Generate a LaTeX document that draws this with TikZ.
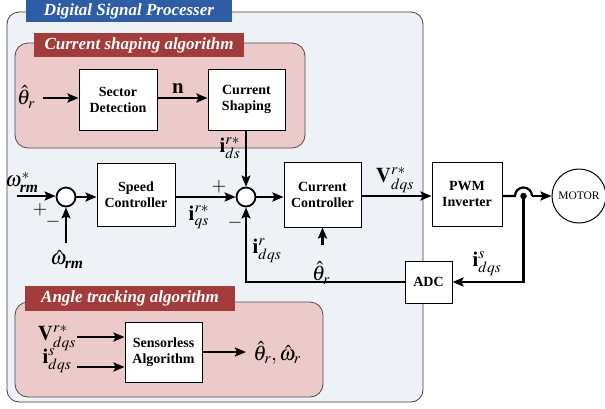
\documentclass[tikz,border=0pt]{standalone}
\usepackage{amsmath}
\usepackage{mathptmx}
\usepackage{fontspec}
\setmainfont{Liberation Serif}
\usetikzlibrary{arrows.meta}
\definecolor{dspfill}{HTML}{EEF1F6}
\definecolor{pinkfill}{HTML}{EDCACA}
\definecolor{bluelab}{HTML}{2E5CA5}
\definecolor{redlab}{HTML}{A23C3A}
\newcommand\bis[1]{\text{\bfseries\itshape #1}}
\tikzset{
  block/.style={draw, fill=white, line width=1pt, align=center, inner sep=0pt,
    font=\bfseries\fontsize{14}{16}\selectfont},
  sumnode/.style={draw, circle, fill=white, line width=1.8pt, minimum size=19pt, inner sep=0pt},
  arr/.style={line width=2.2pt, -{Stealth[length=11pt,width=9pt,inset=2pt]}},
  wire/.style={line width=2.2pt},
  lab/.style={font=\fontsize{21}{24}\selectfont, inner sep=0pt},
  sgn/.style={font=\fontsize{19}{20}\selectfont, inner sep=0pt},
  title/.style={text=white, inner sep=0pt, font=\bfseries\itshape\fontsize{17}{19}\selectfont},
  region/.style={draw=black!70, line width=0.8pt, rounded corners=13pt},
}
\begin{document}
\begin{tikzpicture}[x=1pt,y=-1pt]
\useasboundingbox (0,0) rectangle (605,408);
% DSP frame
\draw[region, draw=black!75, fill=dspfill, rounded corners=12pt] (7,12) rectangle (423,402);
\node[title, fill=bluelab, minimum width=206pt, minimum height=22pt] (dsptitle) at (129,11) {Digital Signal Processer};
% current shaping region
\draw[region, fill=pinkfill] (15,43) rectangle (305,148);
\node[title, fill=redlab, minimum width=210pt, minimum height=24pt] (cstitle) at (139,45) {Current shaping algorithm};
% angle tracking region
\draw[region, fill=pinkfill] (15,302) rectangle (323,397);
\node[title, fill=redlab, minimum width=210pt, minimum height=25pt] (attitle) at (130,298.5) {Angle tracking algorithm};

% blocks
\node[block, minimum width=78pt, minimum height=61pt] (sd) at (118,99.5) {Sector\\Detection};
\node[block, minimum width=77pt, minimum height=61pt] (cs) at (246.5,99.5) {Current\\Shaping};
\node[block, minimum width=78pt, minimum height=63pt] (spd) at (136,194.5) {Speed\\Controller};
\node[block, minimum width=77pt, minimum height=65pt] (cc) at (322.5,194.5) {Current\\Controller};
\node[block, minimum width=70pt, minimum height=64pt] (pwm) at (467,194) {PWM\\Inverter};
\node[block, minimum width=47pt, minimum height=42pt] (adc) at (428.5,282) {ADC};
\node[block, minimum width=77pt, minimum height=60pt] (sa) at (163.5,352) {Sensorless\\Algorithm};
\node[draw, circle, fill=white, line width=1pt, minimum size=54pt, inner sep=0pt,
  font=\fontsize{11.5}{12}\selectfont] (motor) at (579,196) {MOTOR};

% summing junctions
\node[sumnode] (s1) at (66,197) {};
\node[sumnode] (s2) at (246,197) {};

% labels
\node[lab] (thin) at (26,97) {$\hat{\theta}_r$};
\node[lab] (nlab) at (178,89) {$\mathbf{n}$};
\node[lab] (idsl) at (230,148) {$\mathbf{i}^{r*}_{ds}$};
\node[lab] (wref) at (22,182) {$\omega^{*}_{\bis{rm}}$};
\node[lab] (west) at (67,259) {$\hat{\omega}_{\bis{rm}}$};
\node[sgn] (p1) at (40,210) {$+$};
\node[sgn] (m1) at (53,222) {$-$};
\node[sgn] (p2) at (219,187) {$+$};
\node[sgn] (m2) at (235,223) {$-$};
\node[lab] (iqsl) at (199,217) {$\mathbf{i}^{r*}_{qs}$};
\node[lab] (idqr) at (267,251) {$\mathbf{i}^{r}_{dqs}$};
\node[lab] (thcc) at (321,273) {$\hat{\theta}_r$};
\node[lab] (vlab) at (395,180) {$\mathbf{V}^{r*}_{dqs}$};
\node[lab] (idqs) at (487,264) {$\mathbf{i}^{s}_{dqs}$};
\node[lab] (vin) at (57,338) {$\mathbf{V}^{r*}_{dqs}$};
\node[lab] (iin) at (57,361) {$\mathbf{i}^{s}_{dqs}$};
\node[lab] (outl) at (277,353) {$\hat{\theta}_r,\hat{\omega}_r$};

% free ends
\coordinate (thst) at (43,98);
\coordinate (wst) at (17,196);
\coordinate (west0) at (66,243);
\coordinate (thcc0) at (322.5,245);
\coordinate (hopL) at (515,196);
\coordinate (vst) at (77,337);
\coordinate (ist) at (77,367);
\coordinate (oend) at (246,352);
\node[circle, fill, inner sep=0pt, minimum size=6.5pt] (dot) at (523.5,196) {};

% connectors
\draw[arr] (thst) -- (thst -| sd.west);
\draw[arr] (sd.east |- thst) -- (thst -| cs.west);
\draw[arr] (cs.south -| s2.north) -- (s2.north);
\draw[arr] (wst) -- (wst -| s1.west);
\draw[arr] (west0) -- (s1.south);
\draw[arr] (s1 -| s1.east) -- (s1 -| spd.west);
\draw[arr] (s1 -| spd.east) -- (s2.west);
\draw[arr] (s2.east) -- (s2 -| cc.west);
\draw[arr] (thcc0) -- (cc.south);
\draw[arr] (wst -| cc.east) -- (wst -| pwm.west);
\draw[wire] (wst -| pwm.east) -- (hopL) arc[start angle=180, end angle=0, radius=8.5pt] coordinate (hopR);
\draw[arr] (hopR) -- (motor.west);
\draw[arr] (dot.center) |- (adc.east);
\draw[arr] (adc.west) -| (s2.south);
\draw[arr] (vst) -- (vst -| sa.west);
\draw[arr] (ist) -- (ist -| sa.west);
\draw[arr] (sa.east |- oend) -- (oend);
\end{tikzpicture}
\end{document}
